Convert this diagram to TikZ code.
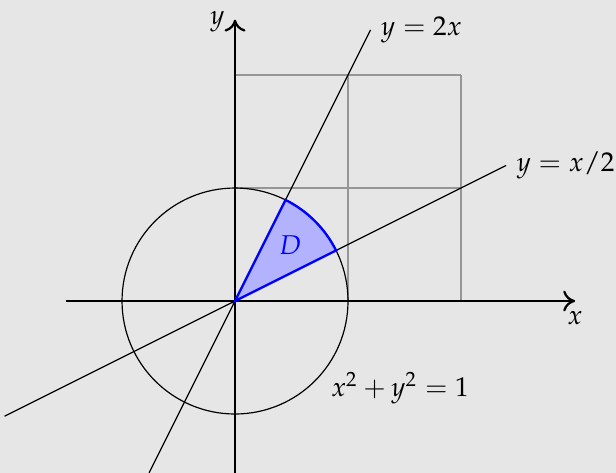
\documentclass[tikz,border=0pt]{standalone}
\usepackage{mathpazo}
\usetikzlibrary{arrows.meta}
\definecolor{bg}{RGB}{230,230,230}
\definecolor{gridgray}{RGB}{150,150,150}
\begin{document}
\begin{tikzpicture}[x=1.33cm,y=1.33cm,
  every node/.style={font=\fontsize{9.1}{11}\selectfont},
  axis/.style={line width=0.75pt,-{To[length=4pt,width=7pt]}},
  thinline/.style={line width=0.4pt,black},
  gridline/.style={line width=0.4pt,gridgray},
  sector/.style={line width=0.8pt,blue,fill=blue!30}]
\fill[bg] (-2.080,-1.522) rectangle (3.372,2.664);
\useasboundingbox (-2.080,-1.522) rectangle (3.372,2.664);
% grid
\foreach \i in {0,1,2}{
  \draw[gridline] (\i,0) -- (\i,2);
  \draw[gridline] (0,\i) -- (2,\i);
}
% circle
\draw[thinline] (0,0) circle[radius=1];
% lines
\coordinate (a1) at (-0.76,-1.52);
\coordinate (a2) at (1.2,2.4);
\draw[thinline] (a1) -- (a2);
\node[right] (l1) at (a2) {$y=2x$};
\coordinate (b1) at (-2.04,-1.02);
\coordinate (b2) at (2.4,1.2);
\draw[thinline] (b1) -- (b2);
\node[right] (l2) at (b2) {$y=x/2$};
% axes
\coordinate (xs) at (-1.5,0);
\coordinate (xe) at (3.01,0);
\coordinate (ys) at (0,-1.53);
\coordinate (ye) at (0,2.49);
\draw[axis] (xs) -- (xe);
\draw[axis] (ys) -- (ye);
% sector D
\draw[sector] (0,0) -- (26.565:1) arc[start angle=26.565,end angle=63.435,radius=1] -- cycle;
\node[blue] (D) at (0.49,0.49) {$D$};
\node[below] (xl) at (xe) {$x$};
\node[left] (yl) at (0,2.47) {$y$};
\node (circ) at (1.46,-0.77) {$x^2+y^2=1$};
\end{tikzpicture}
\end{document}
